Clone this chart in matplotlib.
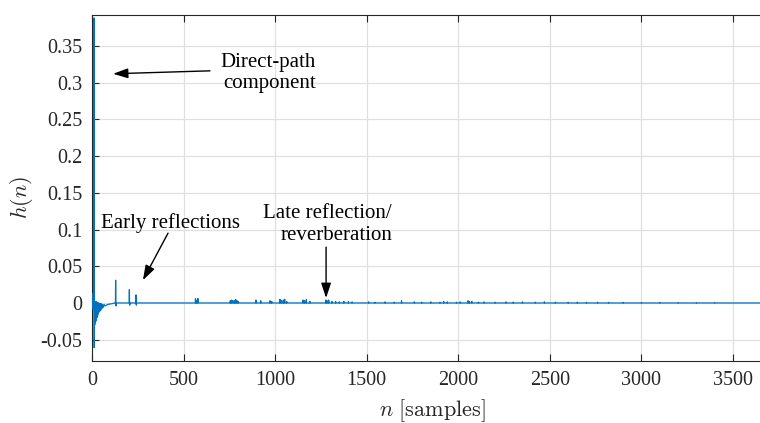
import numpy as np
import matplotlib
matplotlib.use("Agg")
import matplotlib.pyplot as plt
from matplotlib.ticker import FixedLocator, FixedFormatter

# Room impulse response h(n): direct path, decaying onset, early and late reflections
n_total = 3647

# Onset segment (sample index, amplitude)
head_n = [0, 2, 4, 6, 8, 10, 11, 12, 13, 15, 17, 19, 21, 23, 25, 27, 29, 31, 33, 35,
          38, 41, 44, 47, 50, 53, 57, 61, 66, 71, 78, 86, 96, 110, 125]
head_h = [0.0, 0.013, -0.008, 0.010, -0.006, 0.004, 0.388, -0.061, 0.006, -0.030,
          0.002, -0.026, 0.002, -0.024, 0.001, -0.020, 0.001, -0.017, 0.0, -0.014,
          0.0, -0.012, -0.001, -0.010, -0.001, -0.008, -0.002, -0.006, -0.002, -0.004,
          -0.003, -0.002, -0.0015, -0.001, 0.0]

# Early reflections
early_n = [129, 131, 204, 206, 240, 242]
early_h = [0.031, -0.004, 0.018, -0.003, 0.011, -0.003]

# Late reflections / reverberation tail
late_n = [565, 570, 578, 755, 762, 770, 778, 785, 792, 798, 895, 921, 972, 981,
          1026, 1035, 1045, 1052, 1063, 1152, 1160, 1170, 1190, 1277, 1283, 1292,
          1310, 1330, 1350, 1375, 1400, 1420, 1510, 1545, 1600, 1650, 1690, 1760,
          1800, 1850, 1900, 1920, 1940, 1990, 2010, 2053, 2060, 2074, 2110, 2140,
          2200, 2260, 2300, 2350, 2420, 2470, 2530, 2600, 2650, 2700, 2760, 2820,
          2900, 3000, 3100, 3200, 3300, 3400]
late_h = [0.006, 0.003, 0.006, 0.003, 0.004, 0.003, 0.003, 0.0045, 0.003, 0.002,
          0.004, 0.003, 0.003, 0.002, 0.005, 0.003, 0.004, 0.005, 0.002, 0.004,
          0.003, 0.0045, 0.002, 0.004, 0.003, 0.004, 0.002, 0.002, 0.0015, 0.002,
          0.002, 0.0015, 0.0015, 0.001, 0.0015, 0.001, 0.003, 0.0015, 0.001, 0.0015,
          0.001, 0.002, 0.0015, 0.001, 0.0015, 0.003, 0.002, 0.002, 0.001, 0.0015,
          0.001, 0.0015, 0.001, 0.0015, 0.001, 0.0015, 0.001, 0.001, 0.001, 0.0008,
          0.001, 0.0008, 0.0008, 0.0006, 0.0006, 0.0005, 0.0005, 0.0005]

x_ticks = [0, 500, 1000, 1500, 2000, 2500, 3000, 3500]
x_tick_labels = ["0", "500", "1000", "1500", "2000", "2500", "3000", "3500"]
y_ticks = [-0.05, 0, 0.05, 0.1, 0.15, 0.2, 0.25, 0.3, 0.35]
y_tick_labels = ["-0.05", "0", "0.05", "0.1", "0.15", "0.2", "0.25", "0.3", "0.35"]

# Assemble the sequence: onset, then each reflection as an isolated tap
pts = list(zip(head_n, head_h))
for n, a in zip(early_n + late_n, early_h + late_h):
    pts += [(n - 1, 0.0), (n, a), (n + 1, 0.0)]
pts.append((n_total, 0.0))
pts.sort(key=lambda p: p[0])
seq_n = [p[0] for p in pts]
seq_h = [p[1] for p in pts]

plt.rcParams["font.family"] = ["Liberation Serif", "DejaVu Serif"]
plt.rcParams["mathtext.fontset"] = "cm"

fig = plt.figure(figsize=(7.6, 4.23), dpi=100)
ax = fig.add_axes([92 / 760, 1 - 361 / 423, 668 / 760, 346 / 423])

ax.plot(seq_n, seq_h, color="#0072BD", lw=0.9, zorder=3)

ax.set_xlim(0, n_total)
ax.set_ylim(-0.079, 0.392)
ax.xaxis.set_major_locator(FixedLocator(x_ticks))
ax.xaxis.set_major_formatter(FixedFormatter(x_tick_labels))
ax.yaxis.set_major_locator(FixedLocator(y_ticks))
ax.yaxis.set_major_formatter(FixedFormatter(y_tick_labels))

ax.grid(True, color="#e0e0e0", lw=0.9)
ax.set_axisbelow(True)
ax.tick_params(direction="in", length=5, width=0.8, color="#262626",
               labelsize=14.5, labelcolor="#262626", top=True, right=False, pad=7)
for side in ("left", "bottom", "top"):
    ax.spines[side].set_color("#262626")
    ax.spines[side].set_linewidth(0.8)
ax.spines["right"].set_visible(False)

ax.set_xlabel(r"$n\ \mathrm{[samples]}$", fontsize=16, color="#262626")
ax.xaxis.set_label_coords(0.509, -0.142)
ax.xaxis.label.set_va("center")
ax.set_ylabel(r"$h(n)$", fontsize=16, color="#262626")
ax.yaxis.set_label_coords(-0.105, 0.474)
ax.yaxis.label.set_va("center")

arrow = dict(arrowstyle="-|>,head_length=0.9,head_width=0.3", color="black",
             lw=1.0, shrinkA=0, shrinkB=0)
ax.annotate("", xy=(115, 0.312), xytext=(644, 0.316), arrowprops=arrow)
ax.text(1223, 0.313, "Direct-path\ncomponent", ha="right", va="center",
        multialignment="right", fontsize=15, linespacing=1.2)

ax.annotate("", xy=(278, 0.031), xytext=(415, 0.095), arrowprops=arrow)
ax.text(431, 0.109, "Early reflections", ha="center", va="center", fontsize=15)

ax.annotate("", xy=(1278, 0.0068), xytext=(1278, 0.076), arrowprops=arrow)
ax.text(1638, 0.107, "Late reflection/\nreverberation", ha="right", va="center",
        multialignment="right", fontsize=15, linespacing=1.2)

fig.savefig("out.png", dpi=100)
